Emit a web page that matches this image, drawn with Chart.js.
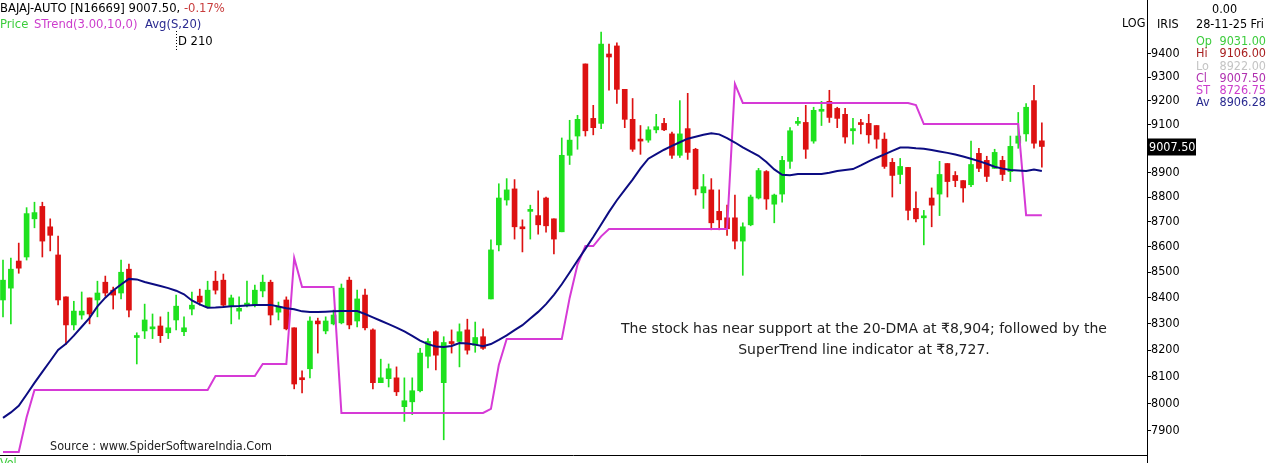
<!DOCTYPE html>
<html>
<head>
<meta charset="utf-8">
<script src="https://cdn.jsdelivr.net/npm/chart.js@4.4.1/dist/chart.umd.min.js"></script>
<style>
html, body { margin: 0; padding: 0; background: #fff; }
#wrap { position: relative; width: 1266px; height: 463px; overflow: hidden;
        font-family: 'DejaVu Sans Condensed', 'DejaVu Sans', sans-serif; font-size: 12.5px; color: #000; }
#wrap canvas { position: absolute; left: 0; top: 0; }
.t { position: absolute; white-space: nowrap; line-height: 14px; }
.w { font-family: 'DejaVu Sans', sans-serif; font-size: 11.6px; }
.row { position: absolute; left: 1196px; width: 70px; line-height: 14px; white-space: nowrap; }
.row span { position: absolute; right: 0; }
</style>
</head>
<body>
<div id="wrap">
  <canvas id="chart" width="1266" height="463"></canvas>

  <div class="t w" style="left:0;top:1px">BAJAJ-AUTO [N16669] 9007.50, <span style="color:#c83c3c">-0.17%</span></div>
  <div class="t w" style="left:0;top:17px;color:#3ccc3c">Price</div>
  <div class="t w" style="left:34px;top:17px;color:#cc3ccc">STrend(3.00,10,0)</div>
  <div class="t w" style="left:145px;top:17px;color:#2a2a90">Avg(S,20)</div>
  <div class="t w" style="left:178px;top:34px">D 210</div>

  <div class="t" style="left:1122px;top:16px">LOG</div>
  <div class="t" style="left:1157px;top:17px">IRIS</div>
  <div class="t" style="left:1212px;top:2px">0.00</div>
  <div class="t" style="left:1196px;top:17px">28-11-25 Fri</div>
  <div class="row" style="top:34px;color:#3ccc3c">Op<span>9031.00</span></div>
  <div class="row" style="top:46px;color:#a82020">Hi<span>9106.00</span></div>
  <div class="row" style="top:59px;color:#c4c4c4">Lo<span>8922.00</span></div>
  <div class="row" style="top:71px;color:#b030b0">Cl<span>9007.50</span></div>
  <div class="row" style="top:83px;color:#cc3ccc">ST<span>8726.75</span></div>
  <div class="row" style="top:95px;color:#2a2a90">Av<span>8906.28</span></div>

  <div class="t" style="left:600px;top:318px;width:528px;text-align:center;font-family:'DejaVu Sans',sans-serif;font-size:14px;line-height:21px;color:#222">The stock has near support at the 20-DMA at ₹8,904; followed by the<br>SuperTrend line indicator at ₹8,727.</div>
  <div class="t" style="left:50px;top:439px;color:#222">Source : www.SpiderSoftwareIndia.Com</div>
  <div class="t" style="left:0;top:456px;color:#3ccc3c">Vol</div>
</div>

<script>
// daily candles, oldest first
var opens = [8392,8438,8544,8560,8712,8762,8680,8568,8404,8296,
  8334,8400,8392,8461,8430,8419,8512,8248,8273,8281,
  8292,8266,8315,8270,8357,8407,8365,8465,8469,8368,
  8349,8372,8372,8427,8461,8345,8392,8285,8093,8130,
  8311,8273,8300,8304,8469,8311,8411,8277,8078,8093,
  8096,7989,8007,8048,8177,8270,8078,8229,8233,8277,
  8218,8251,8396,8608,8788,8833,8680,8742,8725,8796,
  8712,8660,8971,9051,9357,9125,9104,9400,9435,9248,
  9121,9034,9034,9077,9104,9060,8971,9082,8996,8817,
  8829,8742,8716,8716,8623,8688,8796,8904,8771,8812,
  8946,9104,9108,9030,9155,9197,9167,9142,9073,9104,
  9104,9095,9038,8942,8892,8921,8754,8716,8796,8812,
  8937,8888,8867,8850,8979,8950,8917,8950,8904,9021,
  9060,9200,9031];

var highs = [8548,8556,8615,8757,8779,8779,8712,8643,8404,8387,
  8423,8400,8465,8485,8442,8548,8532,8266,8376,8338,
  8327,8345,8411,8327,8423,8434,8465,8504,8493,8411,
  8404,8465,8450,8489,8469,8384,8404,8285,8122,8327,
  8322,8327,8353,8454,8481,8430,8434,8281,8166,8148,
  8137,8096,8096,8207,8244,8273,8251,8277,8300,8318,
  8307,8281,8628,8854,8875,8871,8708,8767,8825,8800,
  8712,9043,9117,9138,9357,9180,9496,9443,9448,9248,
  9209,9095,9090,9142,9125,9068,9200,9231,9000,8892,
  8875,8829,8767,8808,8696,8808,8917,8908,8812,8967,
  9086,9129,9180,9172,9197,9244,9172,9167,9125,9121,
  9142,9095,9064,8958,8958,8921,8821,8746,8837,8946,
  8937,8904,8867,9030,9000,8967,8996,8967,9051,9150,
  9188,9265,9106];

var lows = [8327,8300,8496,8548,8676,8560,8584,8373,8222,8277,
  8318,8300,8327,8407,8357,8396,8327,8148,8244,8244,
  8229,8244,8277,8255,8334,8372,8365,8415,8365,8300,
  8318,8365,8365,8404,8296,8315,8277,8055,8040,8096,
  8189,8262,8296,8300,8281,8288,8277,8055,8078,8062,
  8030,7935,7960,8044,8133,8126,7868,8189,8137,8185,
  8192,8203,8396,8584,8767,8631,8580,8631,8651,8659,
  8572,8660,8933,8996,9051,9056,9082,9244,9188,9086,
  8987,8975,9025,9064,9073,8958,8962,8954,8808,8754,
  8668,8668,8646,8592,8488,8684,8792,8750,8696,8779,
  8917,9095,8958,9021,9095,9108,9086,9021,9017,9060,
  9021,9000,8917,8800,8854,8708,8700,8608,8680,8725,
  8800,8842,8779,8842,8904,8863,8917,8867,8863,9000,
  9030,9000,8922];

var closes = [8469,8512,8516,8733,8737,8623,8646,8392,8296,8349,
  8349,8338,8419,8419,8411,8500,8353,8255,8315,8285,
  8255,8285,8368,8285,8372,8384,8430,8430,8372,8400,
  8360,8380,8430,8461,8334,8365,8281,8073,8089,8311,
  8300,8311,8334,8438,8296,8396,8285,8078,8096,8130,
  8044,8011,8048,8189,8233,8181,8229,8225,8270,8200,
  8248,8207,8588,8796,8829,8680,8672,8750,8688,8684,
  8631,8971,9034,9121,9073,9086,9443,9387,9248,9121,
  8996,9030,9077,9090,9077,8971,9060,8983,8833,8842,
  8696,8708,8672,8623,8680,8800,8908,8792,8808,8950,
  9073,9108,8996,9159,9159,9129,9125,9047,9082,9099,
  9056,9038,8925,8888,8925,8746,8712,8720,8767,8892,
  8863,8867,8837,8933,8917,8884,8983,8892,9008,9051,
  9172,9021,9007.5];

// STrend(3.00,10,0)
var superTrend = [7824,7824,7824,7950,8051,8051,8051,8051,8051,8051,
  8051,8051,8051,8051,8051,8051,8051,8051,8051,8051,
  8051,8051,8051,8051,8051,8051,8051,8103,8103,8103,
  8103,8103,8103,8148,8148,8148,8148,8556,8442,8442,
  8442,8442,8442,7966,7966,7966,7966,7966,7966,7966,
  7966,7966,7966,7966,7966,7966,7966,7966,7966,7966,
  7966,7966,7981,8144,8242,8242,8242,8242,8242,8242,
  8242,8242,8400,8530,8603,8603,8642,8671,8671,8671,
  8671,8671,8671,8671,8671,8671,8671,8671,8671,8671,
  8671,8671,8671,9271,9190,9190,9190,9190,9190,9190,
  9190,9190,9190,9190,9190,9190,9190,9190,9190,9190,
  9190,9190,9190,9190,9190,9190,9181,9101,9101,9101,
  9101,9101,9101,9101,9101,9101,9101,9101,9101,9101,
  8726.75,8726.75,8726.75];

// Avg(S,20)
var dma20 = [7948,7968,7992,8034,8077,8118,8159,8201,8224,8255,
  8289,8323,8367,8401,8429,8452,8474,8472,8462,8454,
  8446,8438,8428,8414,8390,8375,8362,8363,8365,8368,
  8369,8371,8373,8373,8373,8367,8360,8356,8348,8346,
  8346,8347,8348,8349,8349,8349,8338,8325,8312,8299,
  8286,8271,8254,8236,8223,8214,8212,8216,8227,8225,
  8221,8215,8223,8239,8256,8276,8295,8321,8346,8376,
  8412,8453,8499,8546,8592,8639,8689,8740,8787,8829,
  8871,8917,8957,8976,8994,9010,9025,9040,9048,9056,
  9063,9058,9042,9024,9004,8986,8969,8943,8913,8891,
  8889,8894,8894,8894,8894,8899,8906,8910,8914,8929,
  8946,8961,8975,8989,9003,9003,9000,8998,8993,8987,
  8981,8974,8966,8957,8947,8936,8924,8916,8910,8908,
  8906,8912,8906.28];

var priceTicks = [7900,8000,8100,8200,8300,8400,8500,8600,8700,8800,8900,9000,9100,9200,9300,9400];
var lastPrice = 9007.50;

var upColor = "#1ee11e";
var downColor = "#dd1111";
var font = "'DejaVu Sans Condensed', 'DejaVu Sans', sans-serif";

var candleColors = closes.map(function (c, i) { return c >= opens[i] ? upColor : downColor; });
var wicks = highs.map(function (h, i) { return { x: i, y: [lows[i], h] }; });
var bodies = opens.map(function (o, i) { return { x: i, y: [Math.min(o, closes[i]), Math.max(o, closes[i])] }; });
var toPoints = function (arr) { return arr.map(function (v, i) { return { x: i, y: v }; }); };

var extras = {
  id: "extras",
  afterDraw: function (chart) {
    var ctx = chart.ctx, area = chart.chartArea, y = chart.scales.y;
    ctx.save();
    ctx.strokeStyle = "#000";
    ctx.lineWidth = 1;
    ctx.beginPath();
    ctx.moveTo(0, area.bottom + 0.5);
    ctx.lineTo(area.right, area.bottom + 0.5);
    ctx.moveTo(area.right + 0.5, 0);
    ctx.lineTo(area.right + 0.5, chart.height);
    ctx.stroke();
    // day marker
    ctx.setLineDash([1, 2]);
    ctx.beginPath();
    ctx.moveTo(176.5, 31);
    ctx.lineTo(176.5, 52);
    ctx.stroke();
    ctx.setLineDash([]);
    // last price tag
    var py = y.getPixelForValue(lastPrice);
    ctx.fillStyle = "#000";
    ctx.fillRect(area.right, py - 8, 49, 17);
    ctx.fillStyle = "#fff";
    ctx.font = "12.5px " + font;
    ctx.textBaseline = "middle";
    ctx.fillText(lastPrice.toFixed(2), area.right + 2, py + 1);
    ctx.restore();
  }
};

new Chart(document.getElementById("chart"), {
  type: "bar",
  data: {
    datasets: [
      { type: "line", label: "Avg(S,20)", data: toPoints(dma20), borderColor: "#0c0c82",
        borderWidth: 2, pointRadius: 0, tension: 0, order: 0 },
      { type: "line", label: "STrend", data: toPoints(superTrend), borderColor: "#d63ad6",
        borderWidth: 2, pointRadius: 0, tension: 0, order: 0 },
      { label: "body", data: bodies, backgroundColor: candleColors, barThickness: 5,
        grouped: false, minBarLength: 2, order: 1 },
      { label: "wick", data: wicks, backgroundColor: candleColors, barThickness: 1,
        grouped: false, order: 2 }
    ]
  },
  options: {
    responsive: false,
    animation: false,
    layout: { padding: { left: 0, right: 0, top: 0, bottom: 8 } },
    plugins: { legend: { display: false }, tooltip: { enabled: false } },
    scales: {
      x: { type: "linear", display: false, offset: false, min: -0.381, max: 145.36 },
      y: {
        type: "logarithmic",
        position: "right",
        min: 7813,
        max: 9637,
        afterBuildTicks: function (s) { s.ticks = priceTicks.map(function (v) { return { value: v }; }); },
        afterFit: function (s) { s.width = 119; s.paddingTop = 0; s.paddingBottom = 0; },
        grid: { drawOnChartArea: false, drawTicks: true, tickLength: 4, color: "#000" },
        border: { display: true, color: "#000", width: 1 },
        ticks: { color: "#000", padding: 0, autoSkip: false,
                 font: { family: font, size: 12.5 },
                 callback: function (v) { return String(v); } }
      }
    }
  },
  plugins: [extras]
});
</script>
</body>
</html>
